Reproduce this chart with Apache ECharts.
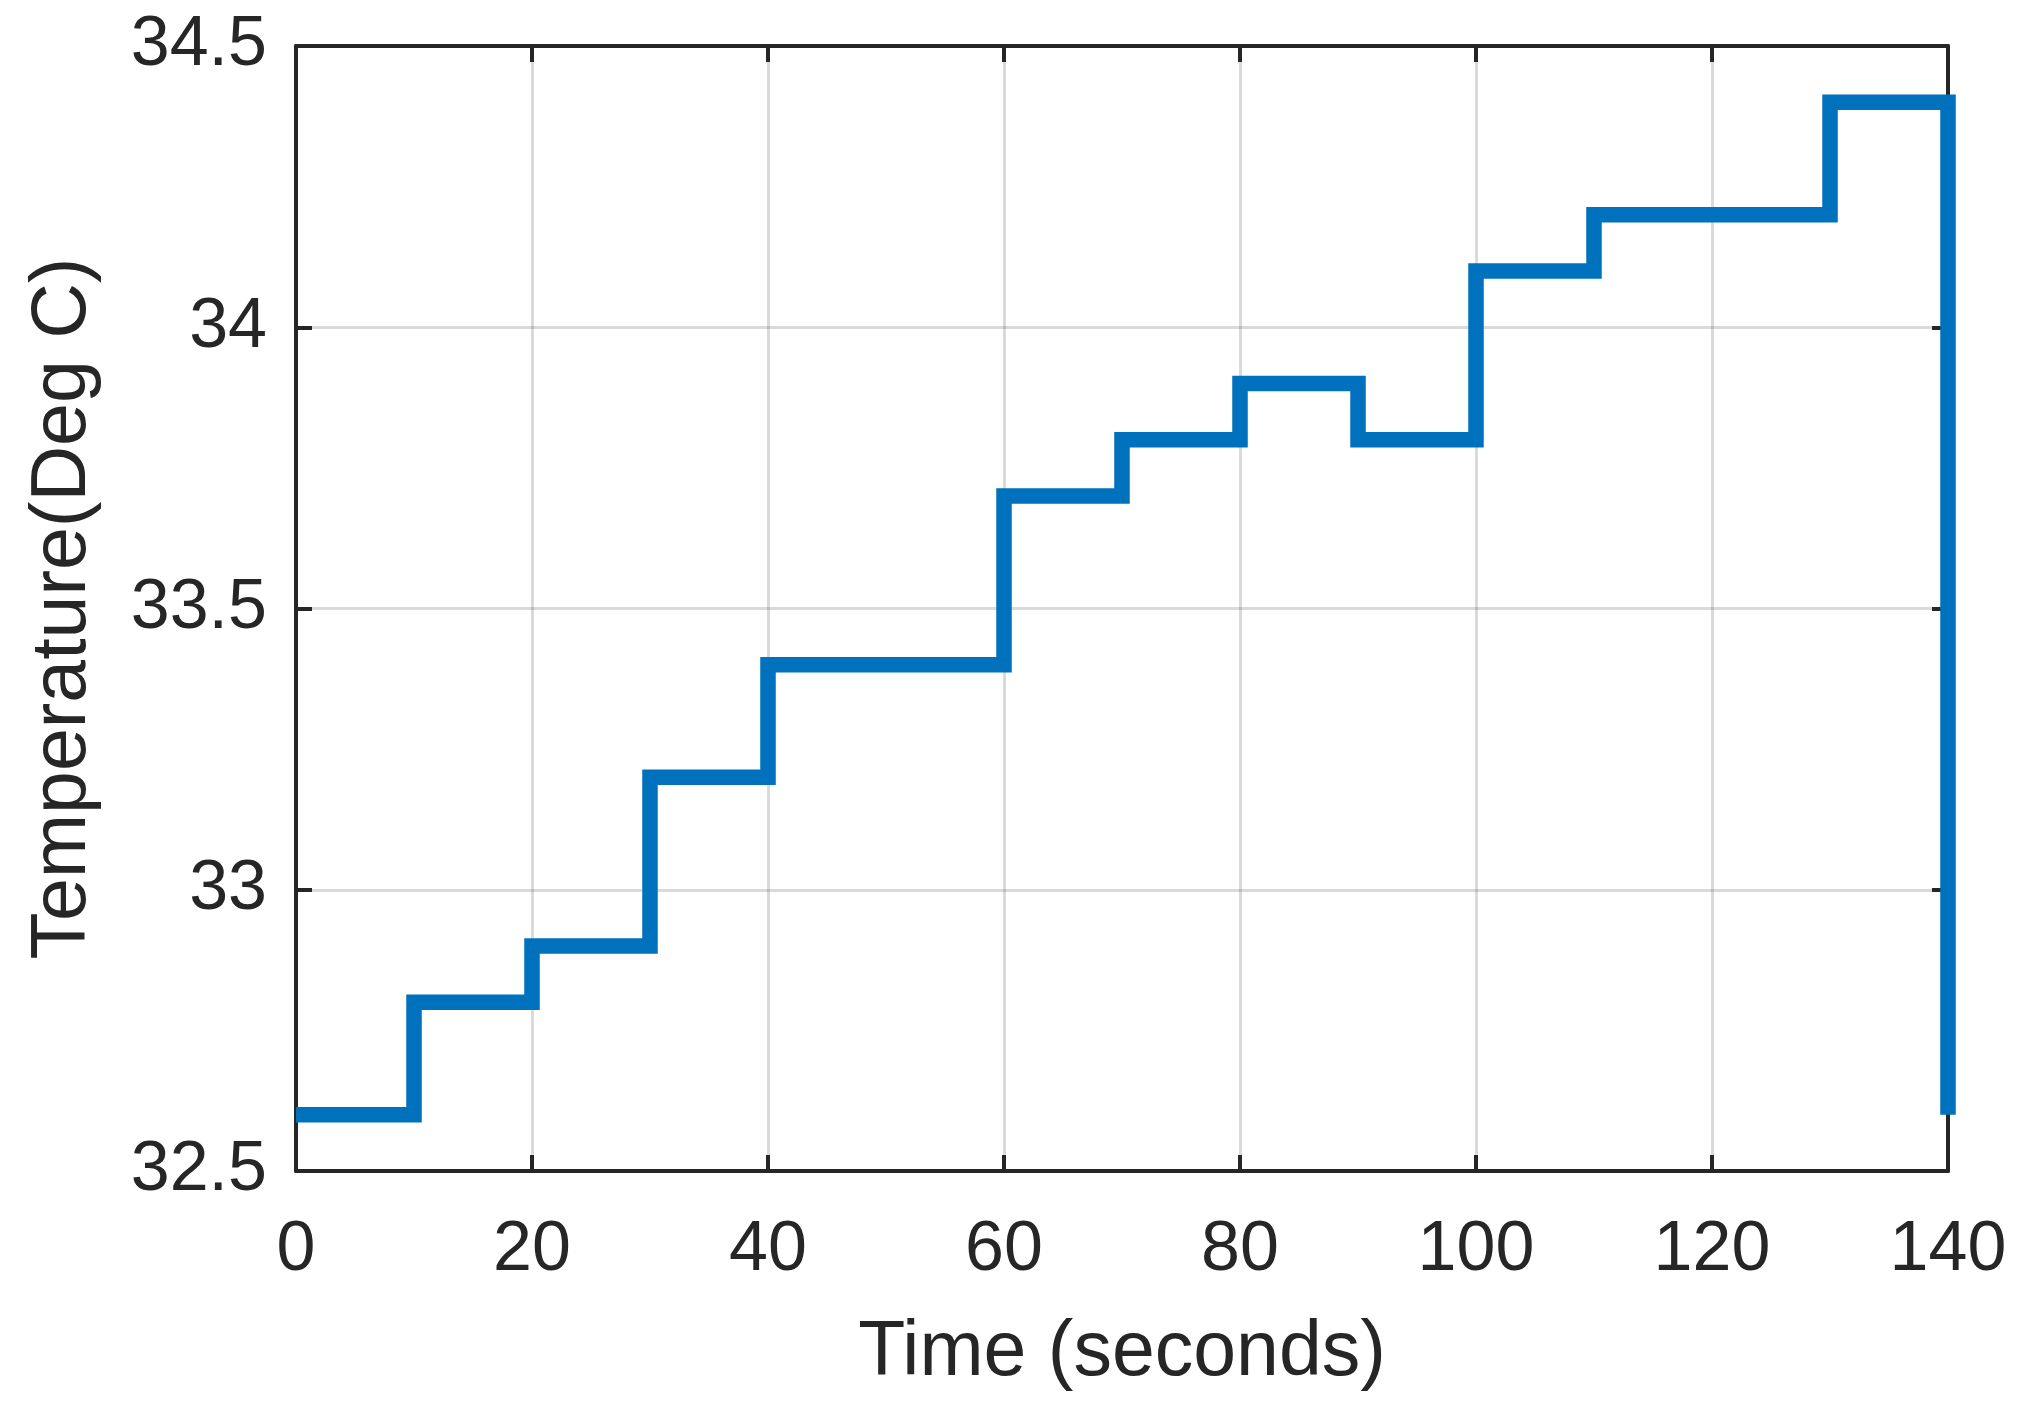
<!DOCTYPE html>
<html>
<head>
<meta charset="utf-8">
<script src="https://cdn.jsdelivr.net/npm/echarts@6/dist/echarts.min.js"></script>
<style>
  html, body { margin: 0; padding: 0; background: #fff; }
  #chart { width: 2018px; height: 1408px; }
</style>
</head>
<body>
<div id="chart"></div>
<script>
// stairs data: time (s) and temperature (deg C)
const timeSec = [0, 10, 20, 30, 40, 50, 60, 70, 80, 90, 100, 110, 120, 130, 140]
const tempC = [32.6, 32.8, 32.9, 33.2, 33.4, 33.4, 33.7, 33.8, 33.9, 33.8, 34.1, 34.2, 34.2, 34.4, 32.6]

const INK = '#262626'
const BLUE = '#0072BD'
const FONT = '"Liberation Sans", Arial, sans-serif'
const GRID_LINE = { show: true, lineStyle: { color: 'rgba(38,38,38,0.17)', width: 3 } }

const chart = echarts.init(document.getElementById('chart'))

const tickIn = { show: true, inside: true, length: 16, lineStyle: { color: INK, width: 4 } }
const axLine = { show: true, onZero: false, lineStyle: { color: INK, width: 4 } }

chart.setOption({
  animation: false,
  backgroundColor: '#fff',
  textStyle: { fontFamily: FONT },
  grid: { left: 296, right: 70, top: 46, bottom: 237, containLabel: false },
  xAxis: [
    {
      type: 'value', min: 0, max: 140, interval: 20,
      name: 'Time (seconds)', nameLocation: 'middle', nameGap: 144,
      nameTextStyle: { color: INK, fontSize: 77, fontFamily: FONT },
      axisLine: axLine, axisTick: tickIn,
      axisLabel: { color: INK, fontSize: 70, fontFamily: FONT, margin: 45 },
      splitLine: GRID_LINE,
    },
    {
      type: 'value', min: 0, max: 140, interval: 20, position: 'top',
      axisLine: axLine, axisTick: tickIn,
      axisLabel: { show: false }, splitLine: { show: false },
    },
  ],
  yAxis: [
    {
      type: 'value', min: 32.5, max: 34.5, interval: 0.5,
      name: 'Temperature(Deg C)', nameLocation: 'middle', nameGap: 194,
      nameTextStyle: { color: INK, fontSize: 77, fontFamily: FONT },
      axisLine: axLine, axisTick: tickIn,
      axisLabel: { color: INK, fontSize: 70, fontFamily: FONT, margin: 29 },
      splitLine: GRID_LINE,
    },
    {
      type: 'value', min: 32.5, max: 34.5, interval: 0.5, position: 'right',
      axisLine: axLine, axisTick: tickIn,
      axisLabel: { show: false }, splitLine: { show: false },
    },
  ],
  series: [
    {
      type: 'line',
      step: 'end',
      data: timeSec.map((t, i) => [t, tempC[i]]),
      showSymbol: false,
      clip: false,
      lineStyle: { color: BLUE, width: 15.5, cap: 'butt', join: 'miter' },
      z: 5,
    },
  ],
})
</script>
</body>
</html>
